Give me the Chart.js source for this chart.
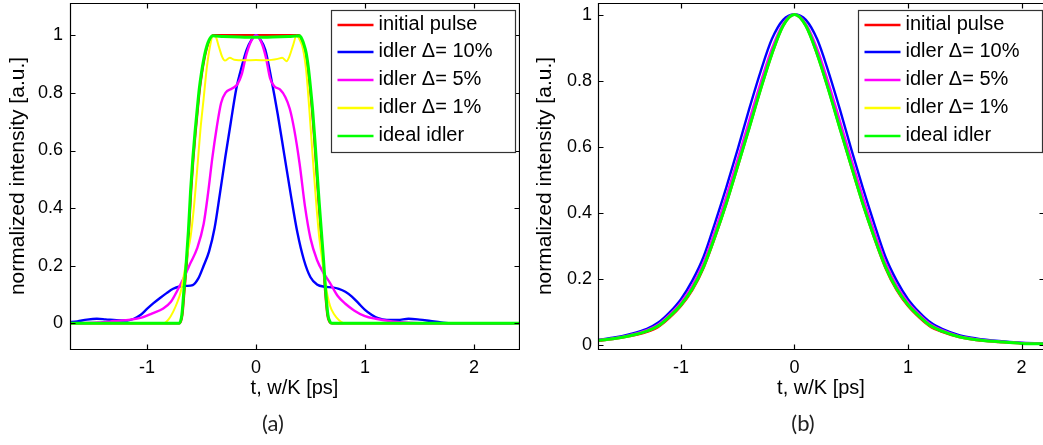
<!DOCTYPE html>
<html>
<head>
<meta charset="utf-8">
<script src="https://cdn.jsdelivr.net/npm/chart.js@4.4.0/dist/chart.umd.min.js"></script>
<style>
  html, body { margin: 0; padding: 0; background: #fff; overflow: hidden; width: 1043px; height: 445px; }
  #chartA { position: absolute; left: 0; top: 0; }
  #chartB { position: absolute; left: 520px; top: 0; }
</style>
</head>
<body>
<canvas id="chartA" width="520" height="445"></canvas>
<canvas id="chartB" width="530" height="445"></canvas>
<script>
// legend texts and ticks
const seriesLabels = ['initial pulse', 'idler \u0394= 10%', 'idler \u0394= 5%', 'idler \u0394= 1%', 'ideal idler'];
const xTicks = [-1, 0, 1, 2];
const xTickLabels = ['-1', '0', '1', '2'];
const yTicks = [0, 0.2, 0.4, 0.6, 0.8, 1];
const yTickLabels = ['0', '0.2', '0.4', '0.6', '0.8', '1'];

// (a) flat-top pulse
const tInitialA = [-1.72, -0.70, -0.675, -0.655, -0.635, -0.615, -0.595, -0.575, -0.555, -0.535, -0.515, -0.495, -0.475, -0.455, -0.435, -0.415, -0.395, 0, 0.395, 0.415, 0.435, 0.455, 0.475, 0.495, 0.515, 0.535, 0.555, 0.575, 0.595, 0.615, 0.635, 0.655, 0.675, 0.695, 2.45];
const initialA = [0, 0, 0.03, 0.12, 0.21, 0.32, 0.46, 0.57, 0.66, 0.74, 0.815, 0.87, 0.915, 0.95, 0.975, 0.99, 1.0, 1.0, 1.0, 0.988, 0.968, 0.94, 0.89, 0.82, 0.74, 0.64, 0.53, 0.42, 0.32, 0.22, 0.11, 0.03, 0.005, 0, 0];

const tIdler10A = [-1.72, -1.64, -1.55, -1.46, -1.38, -1.28, -1.18, -1.12, -1.06, -1.0, -0.94, -0.88, -0.82, -0.76, -0.70, -0.64, -0.58, -0.53, -0.48, -0.43, -0.38, -0.33, -0.28, -0.23, -0.18, -0.13, -0.085, -0.04, 0, 0.04, 0.085, 0.14, 0.2, 0.26, 0.32, 0.38, 0.44, 0.5, 0.56, 0.63, 0.7, 0.76, 0.82, 0.88, 0.94, 1.0, 1.06, 1.12, 1.2, 1.3, 1.4, 1.5, 1.6, 1.7, 1.8, 2.45];
const idler10A = [0.004, 0.007, 0.013, 0.016, 0.014, 0.011, 0.01, 0.016, 0.029, 0.05, 0.07, 0.088, 0.105, 0.12, 0.128, 0.13, 0.133, 0.155, 0.2, 0.25, 0.33, 0.452, 0.58, 0.70, 0.815, 0.892, 0.95, 0.985, 1.0, 0.985, 0.95, 0.85, 0.725, 0.585, 0.445, 0.315, 0.22, 0.16, 0.135, 0.127, 0.125, 0.12, 0.11, 0.093, 0.07, 0.047, 0.03, 0.018, 0.012, 0.012, 0.016, 0.013, 0.008, 0.003, 0, 0];

const tIdler5A = [-1.72, -1.45, -1.3, -1.15, -1.05, -0.95, -0.85, -0.78, -0.72, -0.66, -0.6, -0.54, -0.48, -0.44, -0.40, -0.36, -0.32, -0.28, -0.22, -0.17, -0.13, -0.09, -0.05, 0, 0.05, 0.09, 0.13, 0.17, 0.22, 0.27, 0.31, 0.35, 0.40, 0.45, 0.50, 0.56, 0.62, 0.68, 0.75, 0.82, 0.9, 1.0, 1.1, 1.25, 1.4, 1.6, 2.45];
const idler5A = [0, 0.003, 0.008, 0.013, 0.02, 0.035, 0.052, 0.075, 0.115, 0.16, 0.21, 0.26, 0.345, 0.45, 0.575, 0.68, 0.765, 0.80, 0.815, 0.83, 0.865, 0.93, 0.975, 1.0, 0.975, 0.925, 0.85, 0.822, 0.812, 0.785, 0.745, 0.675, 0.555, 0.405, 0.295, 0.22, 0.175, 0.14, 0.095, 0.068, 0.045, 0.025, 0.016, 0.007, 0.002, 0, 0];

const tIdler1A = [-1.72, -0.85, -0.80, -0.76, -0.72, -0.69, -0.66, -0.63, -0.60, -0.57, -0.54, -0.51, -0.48, -0.45, -0.42, -0.395, -0.37, -0.34, -0.31, -0.285, -0.24, -0.2, -0.1, 0, 0.1, 0.2, 0.24, 0.28, 0.31, 0.34, 0.372, 0.40, 0.43, 0.46, 0.49, 0.52, 0.55, 0.58, 0.61, 0.64, 0.68, 0.72, 0.76, 0.82, 2.45];
const idler1A = [0, 0, 0.015, 0.04, 0.075, 0.11, 0.17, 0.24, 0.30, 0.40, 0.53, 0.67, 0.78, 0.89, 0.965, 0.998, 0.995, 0.96, 0.925, 0.912, 0.922, 0.915, 0.913, 0.914, 0.913, 0.918, 0.922, 0.91, 0.93, 0.965, 0.998, 0.985, 0.955, 0.88, 0.74, 0.58, 0.43, 0.30, 0.215, 0.13, 0.06, 0.03, 0.012, 0, 0];

const tIdealA = [-1.72, -0.705, -0.68, -0.66, -0.64, -0.62, -0.60, -0.58, -0.56, -0.54, -0.52, -0.50, -0.48, -0.46, -0.44, -0.42, -0.40, -0.30, -0.15, 0, 0.15, 0.30, 0.40, 0.42, 0.44, 0.46, 0.48, 0.50, 0.52, 0.54, 0.56, 0.58, 0.60, 0.62, 0.64, 0.66, 0.68, 0.70, 2.45];
const idealA = [0, 0, 0.03, 0.12, 0.21, 0.32, 0.46, 0.57, 0.66, 0.74, 0.815, 0.87, 0.915, 0.95, 0.975, 0.99, 0.998, 0.996, 0.994, 0.993, 0.994, 0.996, 0.998, 0.988, 0.968, 0.94, 0.89, 0.82, 0.74, 0.64, 0.53, 0.42, 0.32, 0.22, 0.11, 0.03, 0.005, 0, 0];

// (b) bell-shaped pulse, one time grid for all series
const tB = [-1.75, -1.6, -1.45, -1.3, -1.2, -1.1, -1.0, -0.9, -0.8, -0.7, -0.6, -0.5, -0.4, -0.3, -0.2, -0.1, 0, 0.1, 0.2, 0.3, 0.4, 0.5, 0.6, 0.7, 0.8, 0.9, 1.0, 1.1, 1.2, 1.3, 1.45, 1.6, 1.8, 2.0, 2.25];
const initialB = [0.012, 0.018, 0.027, 0.04, 0.055, 0.083, 0.118, 0.166, 0.234, 0.326, 0.428, 0.54, 0.655, 0.771, 0.879, 0.966, 1.0, 0.966, 0.879, 0.771, 0.655, 0.54, 0.428, 0.326, 0.234, 0.166, 0.118, 0.083, 0.055, 0.04, 0.024, 0.015, 0.009, 0.005, 0.003];
const idler10B = [0.015, 0.022, 0.033, 0.049, 0.068, 0.099, 0.139, 0.195, 0.268, 0.37, 0.478, 0.593, 0.713, 0.826, 0.925, 0.984, 1.0, 0.984, 0.925, 0.826, 0.713, 0.593, 0.478, 0.37, 0.268, 0.195, 0.139, 0.099, 0.068, 0.049, 0.03, 0.02, 0.012, 0.007, 0.004];
const idler5B = [0.014, 0.02, 0.03, 0.045, 0.062, 0.092, 0.129, 0.18, 0.251, 0.346, 0.451, 0.563, 0.678, 0.792, 0.896, 0.972, 1.0, 0.972, 0.896, 0.792, 0.678, 0.563, 0.451, 0.346, 0.251, 0.18, 0.129, 0.092, 0.062, 0.045, 0.027, 0.018, 0.011, 0.006, 0.003];
const idler1B = [0.013, 0.019, 0.028, 0.042, 0.057, 0.086, 0.121, 0.169, 0.237, 0.328, 0.43, 0.541, 0.655, 0.772, 0.879, 0.966, 1.0, 0.966, 0.879, 0.772, 0.655, 0.541, 0.43, 0.328, 0.237, 0.169, 0.121, 0.086, 0.057, 0.042, 0.025, 0.016, 0.01, 0.005, 0.003];
const idealB = [0.013, 0.019, 0.028, 0.042, 0.058, 0.087, 0.122, 0.17, 0.238, 0.329, 0.43, 0.542, 0.656, 0.772, 0.88, 0.966, 1.0, 0.966, 0.88, 0.772, 0.656, 0.542, 0.43, 0.329, 0.238, 0.17, 0.122, 0.087, 0.058, 0.042, 0.025, 0.016, 0.01, 0.005, 0.003];

const lineColors = ['#ff0000', '#0000ff', '#ff00ff', '#ffff00', '#00ff00'];
const lineWidths = [2.4, 2.4, 2.4, 2, 3];

Chart.defaults.font.family = '"Liberation Sans", Arial, sans-serif';
Chart.defaults.font.size = 18;
Chart.defaults.color = '#000';

function pts(t, v) {
  return t.map((x, i) => ({ x: x, y: v[i] }));
}

// matlab style box: inward ticks on all sides, legend in the corner, (a)/(b) caption
const matlabAxes = {
  id: 'matlabAxes',
  afterDraw(chart, args, o) {
    const { ctx, chartArea: a } = chart;
    const xs = chart.scales.x, ys = chart.scales.y;
    const L = Math.round(a.left) + 0.5, R = Math.round(a.right) + 0.5;
    const T = Math.round(a.top) + 0.5, B = Math.round(a.bottom) + 0.5;
    ctx.save();
    ctx.strokeStyle = '#000';
    ctx.lineWidth = 1.2;
    ctx.beginPath();
    xs.ticks.forEach(t => {
      const px = Math.round(xs.getPixelForValue(t.value)) + 0.5;
      ctx.moveTo(px, B); ctx.lineTo(px, B - 5);
      ctx.moveTo(px, T); ctx.lineTo(px, T + 5);
    });
    ys.ticks.forEach(t => {
      const py = Math.round(ys.getPixelForValue(t.value)) + 0.5;
      ctx.moveTo(L, py); ctx.lineTo(L + 5, py);
      ctx.moveTo(R, py); ctx.lineTo(R - 5, py);
    });
    ctx.rect(L, T, R - L, B - T);
    ctx.stroke();

    // legend
    const bw = 184, bh = 142;
    const bx = Math.round(R - o.inset - bw) + 0.5, by = T + 7;
    ctx.fillStyle = '#fff';
    ctx.fillRect(bx, by, bw, bh);
    ctx.strokeStyle = '#333';
    ctx.lineWidth = 1.2;
    ctx.strokeRect(bx, by, bw, bh);
    ctx.font = '20px "Liberation Sans"';
    ctx.textBaseline = 'middle';
    chart.data.datasets.forEach((ds, i) => {
      const ly = Math.round(by + 14 + i * 27.8);
      ctx.strokeStyle = ds.borderColor;
      ctx.lineWidth = 2.4;
      ctx.beginPath();
      ctx.moveTo(bx + 6, ly);
      ctx.lineTo(bx + 42, ly);
      ctx.stroke();
      ctx.fillStyle = '#000';
      ctx.fillText(ds.label, bx + 47, ly - 1);
    });

    ctx.font = '22px Lato';
    ctx.textAlign = 'center';
    ctx.fillStyle = '#222';
    ctx.fillText(o.caption, o.captionX, 424);
    ctx.restore();
  }
};

function makeChart(id, series, view) {
  const datasets = series.map((s, i) => ({
    label: seriesLabels[i],
    data: s,
    borderColor: lineColors[i],
    backgroundColor: lineColors[i],
    borderWidth: lineWidths[i],
    pointRadius: 0,
    fill: false,
    cubicInterpolationMode: 'monotone',
    order: series.length - 1 - i
  }));
  return new Chart(document.getElementById(id), {
    type: 'line',
    data: { datasets: datasets },
    plugins: [matlabAxes],
    options: {
      responsive: false,
      animation: false,
      devicePixelRatio: 1,
      layout: { padding: { left: 0, top: 3, right: view.padRight, bottom: 30 } },
      plugins: {
        legend: { display: false },
        tooltip: { enabled: false },
        matlabAxes: { inset: view.legendInset, caption: view.caption, captionX: view.captionX }
      },
      scales: {
        x: {
          type: 'linear',
          min: view.xMin,
          max: view.xMax,
          grid: { display: false, drawTicks: false },
          border: { display: false },
          afterBuildTicks: s => { s.ticks = xTicks.map(v => ({ value: v })); },
          afterFit: s => { s.height = 66; s.paddingLeft = 0; s.paddingRight = 0; },
          ticks: { padding: 8, autoSkip: false, maxRotation: 0, callback: (v, i) => xTickLabels[i] },
          title: { display: true, text: 't, w/K [ps]', font: { size: 20 }, padding: { top: 0, bottom: 15 } }
        },
        y: {
          type: 'linear',
          min: view.yMin,
          max: view.yMax,
          grid: { display: false, drawTicks: false },
          border: { display: false },
          afterBuildTicks: s => { s.ticks = yTicks.map(v => ({ value: v })); },
          afterFit: s => { s.width = view.yAxisWidth; s.paddingTop = 0; s.paddingBottom = 0; },
          ticks: { padding: view.yTickPad, autoSkip: false, callback: (v, i) => yTickLabels[i] },
          title: { display: true, text: 'normalized intensity [a.u.]', font: { size: 21 }, padding: { top: view.yTitlePad, bottom: 0 } }
        }
      }
    }
  });
}

makeChart('chartA', [
  pts(tInitialA, initialA),
  pts(tIdler10A, idler10A),
  pts(tIdler5A, idler5A),
  pts(tIdler1A, idler1A),
  pts(tIdealA, idealA)
], { xMin: -1.706, xMax: 2.413, yMin: -0.089, yMax: 1.112, yAxisWidth: 70, padRight: 1, yTickPad: 7, yTitlePad: 6, legendInset: 5, caption: '(a)', captionX: 273 });

makeChart('chartB', [
  pts(tB, initialB),
  pts(tB, idler10B),
  pts(tB, idler5B),
  pts(tB, idler1B),
  pts(tB, idealB)
], { xMin: -1.731, xMax: 2.198, yMin: -0.012, yMax: 1.035, yAxisWidth: 78, padRight: 6, yTickPad: 6, yTitlePad: 13, legendInset: 3, caption: '(b)', captionX: 283 });
</script>
</body>
</html>
